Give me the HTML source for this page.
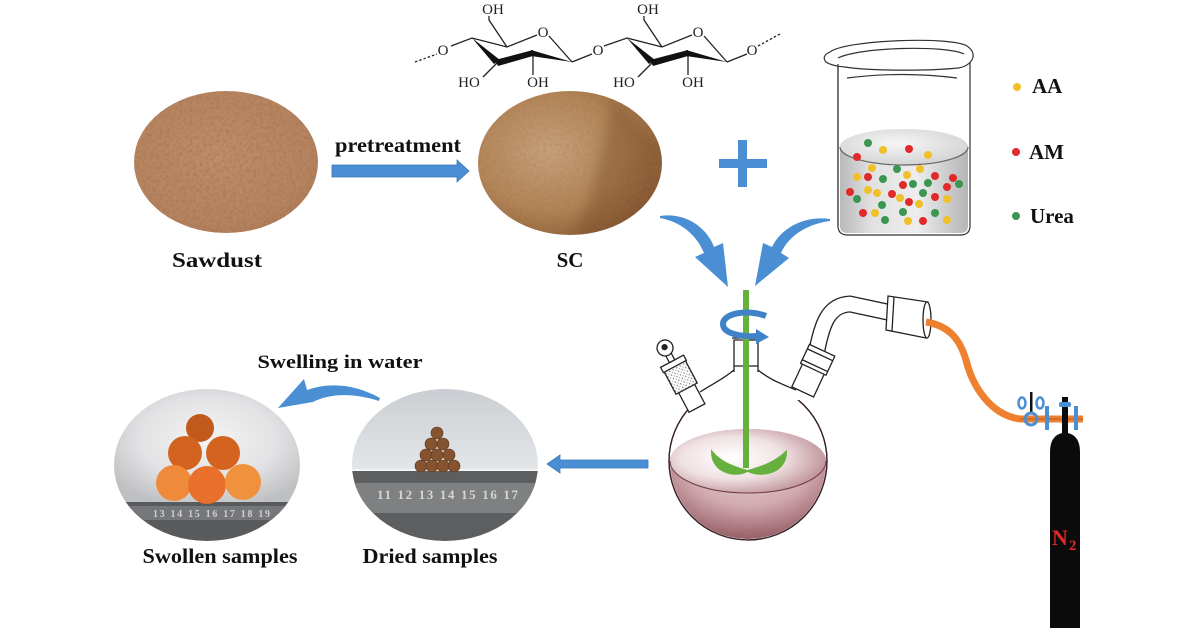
<!DOCTYPE html>
<html><head><meta charset="utf-8">
<style>
html,body{margin:0;padding:0;background:#fff;}
svg{display:block;}
text{font-family:"Liberation Serif","DejaVu Serif",serif;}
</style></head>
<body>
<svg width="1200" height="628" viewBox="0 0 1200 628" xmlns="http://www.w3.org/2000/svg">
<defs>
 <radialGradient id="gSaw" cx="0.45" cy="0.45" r="0.65">
  <stop offset="0" stop-color="#c08d68"/>
  <stop offset="0.7" stop-color="#b7835e"/>
  <stop offset="1" stop-color="#a97553"/>
 </radialGradient>
 <radialGradient id="gSC" cx="0.38" cy="0.42" r="0.7">
  <stop offset="0" stop-color="#c7a07a"/>
  <stop offset="0.55" stop-color="#b28456"/>
  <stop offset="1" stop-color="#86562f"/>
 </radialGradient>
 <filter id="tex" x="0" y="0" width="100%" height="100%">
  <feTurbulence type="fractalNoise" baseFrequency="0.3" numOctaves="2" seed="4" result="n"/>
  <feColorMatrix in="n" type="matrix" values="0 0 0 0 0.32  0 0 0 0 0.18  0 0 0 0 0.1  1.9 0 0 0 -0.8" result="d"/>
  <feComposite in="d" in2="SourceGraphic" operator="in"/>
 </filter>
 <filter id="blur" x="-20%" y="-20%" width="140%" height="140%">
  <feGaussianBlur stdDeviation="6"/>
 </filter>
 <clipPath id="cSaw"><ellipse cx="226" cy="162" rx="92" ry="71"/></clipPath>
 <clipPath id="cSC"><ellipse cx="570" cy="163" rx="92" ry="72"/></clipPath>
 <clipPath id="cSw"><ellipse cx="207" cy="465" rx="93" ry="76"/></clipPath>
 <clipPath id="cDr"><ellipse cx="445" cy="465" rx="93" ry="76"/></clipPath>
 <radialGradient id="gSwBg" cx="0.5" cy="0.45" r="0.6">
  <stop offset="0" stop-color="#f4f4f5"/>
  <stop offset="0.6" stop-color="#e2e2e4"/>
  <stop offset="1" stop-color="#bfc0c2"/>
 </radialGradient>
 <linearGradient id="gDrBg" x1="0" y1="0" x2="0" y2="1">
  <stop offset="0" stop-color="#c9cdd1"/>
  <stop offset="1" stop-color="#e4e7ea"/>
 </linearGradient>
 <linearGradient id="gBeaker" x1="0" y1="0" x2="1" y2="0">
  <stop offset="0" stop-color="#b9b9b9"/>
  <stop offset="0.25" stop-color="#e2e2e2"/>
  <stop offset="0.6" stop-color="#ededed"/>
  <stop offset="1" stop-color="#b5b5b5"/>
 </linearGradient>
 <radialGradient id="gBSurf" cx="0.45" cy="0.4" r="0.6">
  <stop offset="0" stop-color="#f6f6f6"/>
  <stop offset="1" stop-color="#d4d4d4"/>
 </radialGradient>
 <radialGradient id="gLiq" cx="0.5" cy="0.3" r="0.75">
  <stop offset="0" stop-color="#ecd8da"/>
  <stop offset="0.55" stop-color="#cfa8ad"/>
  <stop offset="1" stop-color="#8e525c"/>
 </radialGradient>
 <radialGradient id="gSurf" cx="0.4" cy="0.45" r="0.65">
  <stop offset="0" stop-color="#ffffff"/>
  <stop offset="0.5" stop-color="#f0e2e4"/>
  <stop offset="1" stop-color="#b98a91"/>
 </radialGradient>
 <pattern id="dots" width="4" height="4" patternUnits="userSpaceOnUse">
  <rect width="4" height="4" fill="#fff"/>
  <circle cx="1" cy="1" r="0.7" fill="#777"/>
  <circle cx="3" cy="3" r="0.6" fill="#999"/>
 </pattern>
</defs>

<rect width="1200" height="628" fill="#fff"/>

<!-- Cellulose structure -->
<g stroke="#222" stroke-width="1.3" fill="none">
 <path d="M415 62 L437 54" stroke-dasharray="2.5 2"/>
 <path d="M451 46 L472 38 L507 47 L537 35"/>
 <path d="M549 36 L572 62"/>
 <path d="M507 47 L489 20 L489 16"/>
 <path d="M497 63 L483 77"/>
 <path d="M533 52 L533 75"/>
 <path d="M572 62 L592 54"/>
 <path d="M604 46 L627 38 L662 47 L692 35"/>
 <path d="M704 36 L727 62"/>
 <path d="M662 47 L644 20 L644 16"/>
 <path d="M652 63 L638 77"/>
 <path d="M688 52 L688 75"/>
 <path d="M727 62 L747 54"/>
 <path d="M758 46 L780 34" stroke-dasharray="2.5 2"/>
</g>
<g fill="#111">
 <polygon points="472,38 494,64 500,60"/>
 <polygon points="495,60 533,50 533,56 498,66"/>
 <polygon points="531,50 572,62 531,56"/>
 <polygon points="627,38 649,64 655,60"/>
 <polygon points="650,60 688,50 688,56 653,66"/>
 <polygon points="686,50 727,62 686,56"/>
</g>
<g font-size="15" fill="#222" text-anchor="middle">
 <text x="443" y="55">O</text>
 <text x="543" y="37">O</text>
 <text x="598" y="55">O</text>
 <text x="698" y="37">O</text>
 <text x="752" y="55">O</text>
 <text x="493" y="14">OH</text>
 <text x="469" y="87">HO</text>
 <text x="538" y="87">OH</text>
 <text x="648" y="14">OH</text>
 <text x="624" y="87">HO</text>
 <text x="693" y="87">OH</text>
</g>

<!-- Sawdust -->
<g clip-path="url(#cSaw)">
 <rect x="130" y="88" width="200" height="150" fill="url(#gSaw)"/>
 <rect x="130" y="88" width="200" height="150" fill="#000" filter="url(#tex)" opacity="0.8"/>
</g>
<!-- SC -->
<g clip-path="url(#cSC)">
 <rect x="474" y="88" width="195" height="150" fill="url(#gSC)"/>
 <path d="M612 100 C602 150, 597 190, 572 240 L650 240 L665 150 Z" fill="#6e4220" opacity="0.35" filter="url(#blur)"/>
 <rect x="474" y="88" width="195" height="150" fill="#000" filter="url(#tex)" opacity="0.35"/>
</g>

<!-- pretreatment arrow -->
<path d="M332 165 L457 165 L457 160 L469 171 L457 182 L457 177 L332 177 Z" fill="#4a8ed4" stroke="#3b78bd" stroke-width="0.8"/>
<text x="398" y="152" font-size="21" font-weight="bold" fill="#111" text-anchor="middle" textLength="126" lengthAdjust="spacingAndGlyphs">pretreatment</text>
<text x="217" y="267" font-size="21" font-weight="bold" fill="#111" text-anchor="middle" textLength="90" lengthAdjust="spacingAndGlyphs">Sawdust</text>
<text x="570" y="267" font-size="21" font-weight="bold" fill="#111" text-anchor="middle">SC</text>

<!-- plus -->
<rect x="738" y="140" width="9" height="47" fill="#4a8ed4"/>
<rect x="719" y="159" width="48" height="9" fill="#4a8ed4"/>

<!-- Beaker -->
<g>
 <path d="M840 147 L840 226 Q840 233 848 233 L960 233 Q968 233 968 226 L968 147 A64 18 0 0 0 840 147 Z" fill="url(#gBeaker)"/>
 <ellipse cx="904" cy="147" rx="64" ry="18" fill="url(#gBSurf)"/>
 <path d="M840 147 A64 18 0 0 0 968 147" fill="none" stroke="#666" stroke-width="1.2"/>
 <g stroke="#333" stroke-width="1.2" fill="none">
  <path d="M838 64 L838 226 Q838 235 848 235 L960 235 Q970 235 970 226 L970 62"/>
  <path d="M826 62 Q821 56 830 52 C845 40, 950 36, 967 46 C979 54, 972 66, 958 68 C930 71, 870 71, 845 67 Q832 66 826 62 Z" fill="#fff"/>
  <path d="M838 58 C860 47, 945 45, 964 54"/>
  <path d="M847 78 Q902 71 957 78"/>
  <path d="M838 64 L838 226"/>
 </g>
 <g>
  <g fill="#3a9650">
   <circle cx="868" cy="143" r="4"/><circle cx="883" cy="179" r="4"/><circle cx="897" cy="169" r="4"/>
   <circle cx="913" cy="184" r="4"/><circle cx="928" cy="183" r="4"/><circle cx="923" cy="193" r="4"/>
   <circle cx="882" cy="205" r="4"/><circle cx="857" cy="199" r="4"/><circle cx="903" cy="212" r="4"/>
   <circle cx="885" cy="220" r="4"/><circle cx="935" cy="213" r="4"/><circle cx="959" cy="184" r="4"/>
  </g>
  <g fill="#efc02a">
   <circle cx="883" cy="150" r="4"/><circle cx="928" cy="155" r="4"/><circle cx="872" cy="168" r="4"/>
   <circle cx="920" cy="169" r="4"/><circle cx="857" cy="177" r="4"/><circle cx="907" cy="175" r="4"/>
   <circle cx="868" cy="190" r="4"/><circle cx="877" cy="193" r="4"/><circle cx="900" cy="198" r="4"/>
   <circle cx="919" cy="204" r="4"/><circle cx="947" cy="199" r="4"/><circle cx="875" cy="213" r="4"/>
   <circle cx="908" cy="221" r="4"/><circle cx="947" cy="220" r="4"/>
  </g>
  <g fill="#e02a2a">
   <circle cx="857" cy="157" r="4"/><circle cx="909" cy="149" r="4"/><circle cx="868" cy="177" r="4"/>
   <circle cx="935" cy="176" r="4"/><circle cx="903" cy="185" r="4"/><circle cx="953" cy="178" r="4"/>
   <circle cx="947" cy="187" r="4"/><circle cx="850" cy="192" r="4"/><circle cx="892" cy="194" r="4"/>
   <circle cx="909" cy="202" r="4"/><circle cx="935" cy="197" r="4"/><circle cx="863" cy="213" r="4"/>
   <circle cx="923" cy="221" r="4"/>
  </g>
 </g>
</g>

<!-- legend -->
<circle cx="1017" cy="87" r="4" fill="#efc02a"/>
<circle cx="1016" cy="152" r="4" fill="#e02a2a"/>
<circle cx="1016" cy="216" r="4" fill="#3a9650"/>
<g font-size="21" font-weight="bold" fill="#111">
 <text x="1032" y="93">AA</text>
 <text x="1029" y="159">AM</text>
 <text x="1030" y="223">Urea</text>
</g>

<!-- curved arrows into flask -->
<path d="M660 216 C688 212, 708 230, 714 247 L723 243 L728 287 L695 257 L704 253 C697 236, 682 222, 660 218 Z" fill="#4a8ed4"/>
<path d="M830 219 C802 215, 780 230, 772 247 L763 243 L755 286 L789 258 L781 253 C788 237, 806 224, 830 221 Z" fill="#4a8ed4"/>

<!-- Flask -->
<g stroke="#222" stroke-width="1.3">
 <circle cx="748" cy="461" r="79" fill="#fff"/>
</g>
<path d="M670 461 A78 78 0 0 0 826 461 A78 32 0 0 0 670 461 Z" fill="url(#gLiq)"/>
<ellipse cx="748" cy="461" rx="78" ry="32" fill="url(#gSurf)"/>
<path d="M670 461 A78 32 0 0 0 826 461" fill="none" stroke="#6e3a42" stroke-width="1"/>
<circle cx="748" cy="461" r="79" fill="none" stroke="#3a2226" stroke-width="1.3"/>

<!-- shoulders -->
<g stroke="#222" stroke-width="1.3" fill="#fff">
 <path d="M700 392 C712 384, 722 380, 734 370 L758 370 C770 380, 782 384, 796 390 L800 400 L696 404 Z" stroke="none"/>
 <path d="M700 392 C712 384, 722 380, 734 370" fill="none"/>
 <path d="M758 370 C770 380, 782 384, 796 390" fill="none"/>
 <!-- centre neck -->
 <path d="M734 372 L734 340 L758 340 L758 372" />
 <path d="M732 338 L760 338" fill="none"/>
 <path d="M734 366 L758 366" fill="none"/>
</g>
<!-- left neck with stopper -->
<g transform="translate(681,378) rotate(-28)" stroke="#222" stroke-width="1.3">
 <rect x="-9" y="10" width="18" height="24" fill="#fff"/>
 <rect x="-12" y="-14" width="24" height="26" fill="url(#dots)"/>
 <rect x="-13" y="-19" width="26" height="6" fill="#fff"/>
 <rect x="-3" y="-28" width="6" height="9" fill="#fff"/>
 <circle cx="0" cy="-34" r="8" fill="#fff"/>
 <circle cx="0" cy="-35" r="2.5" fill="#222"/>
</g>
<!-- right neck and adapter -->
<path d="M817 350 C822 325, 828 305, 850 304 L892 313" fill="none" stroke="#222" stroke-width="17" stroke-linejoin="round"/>
<path d="M817 350 C822 325, 828 305, 850 304 L892 313" fill="none" stroke="#fff" stroke-width="14.4" stroke-linejoin="round"/>
<g transform="translate(812,372) rotate(25)" stroke="#222" stroke-width="1.3">
 <rect x="-12" y="-4" width="24" height="26" fill="#fff"/>
 <rect x="-14" y="-24" width="28" height="21" fill="#fff"/>
 <path d="M-14 -19 L14 -19 M-14 -7 L14 -7" fill="none"/>
</g>
<g stroke="#222" stroke-width="1.3">
 <polygon points="888,296 928,302 926,338 886,330" fill="#fff"/>
 <path d="M894 297 L892 331" fill="none"/>
 <ellipse cx="927" cy="320" rx="4" ry="18" fill="#fff"/>
</g>

<!-- orange tube -->
<path d="M926 322 C950 326, 960 340, 966 360 C972 385, 990 415, 1020 419 L1083 419" fill="none" stroke="#ef8030" stroke-width="7" stroke-linecap="butt"/>
<path d="M1020 419 L1083 419" stroke="#5a2c10" stroke-width="1" opacity="0.4"/>

<!-- valve -->
<g>
 <ellipse cx="1022" cy="403" rx="3.5" ry="5.5" fill="none" stroke="#4a8ed4" stroke-width="2.5"/>
 <ellipse cx="1040" cy="403" rx="3.5" ry="5.5" fill="none" stroke="#4a8ed4" stroke-width="2.5"/>
 <rect x="1030" y="392" width="2.5" height="20" fill="#111"/>
 <circle cx="1031" cy="419" r="6" fill="none" stroke="#4a8ed4" stroke-width="3"/>
 <rect x="1045" y="406" width="4" height="24" fill="#4a8ed4"/>
 <rect x="1074" y="406" width="4" height="24" fill="#4a8ed4"/>
</g>
<!-- cylinder -->
<path d="M1050 628 L1050 452 Q1050 436 1062 433 L1062 397 L1068 397 L1068 433 Q1080 436 1080 452 L1080 628 Z" fill="#0b0b0b"/>
<rect x="1059" y="402" width="12" height="5" rx="2" fill="#4a8ed4"/>
<text x="1052" y="545" font-size="22" font-weight="bold" fill="#e02828">N</text>
<text x="1069" y="550" font-size="15" font-weight="bold" fill="#e02828">2</text>

<!-- stirring rod -->
<rect x="743" y="290" width="6" height="178" fill="#66b03e"/>
<path d="M712 452 C712 472, 735 478, 747 471 C733 467, 720 462, 712 452 Z" fill="#66b03e" stroke="#66b03e" stroke-width="2"/>
<path d="M786 452 C786 472, 763 478, 748 471 C762 467, 776 462, 786 452 Z" fill="#66b03e" stroke="#66b03e" stroke-width="2"/>
<!-- rotation arrow -->
<path d="M766 316 C748 309, 723 313, 723 324 C723 334, 742 337, 758 336" fill="none" stroke="#3f82c8" stroke-width="6"/>
<polygon points="756,329 769,337 756,344" fill="#3f82c8"/>

<!-- arrow to dried -->
<path d="M648 460 L560 460 L560 455 L547 464 L560 473 L560 468 L648 468 Z" fill="#4a8ed4" stroke="#3b78bd" stroke-width="0.8"/>

<!-- Dried samples photo -->
<g clip-path="url(#cDr)">
 <rect x="350" y="386" width="192" height="86" fill="url(#gDrBg)"/>
 <rect x="350" y="469" width="192" height="2" fill="#f4f4f4"/>
 <rect x="350" y="471" width="192" height="72" fill="#5c5e60"/>
 <rect x="350" y="483" width="192" height="30" fill="#7e8081"/>
 <g font-size="13" fill="#d6d6d6" font-weight="bold">
  <text x="377" y="499" textLength="141" lengthAdjust="spacing">11 12 13 14 15 16 17</text>
 </g>
 <g fill="#85532f" stroke="#5e3518" stroke-width="0.6">
  <circle cx="437" cy="433" r="6"/>
  <circle cx="431" cy="444" r="6"/><circle cx="443" cy="444" r="6"/>
  <circle cx="426" cy="455" r="6"/><circle cx="437" cy="455" r="6"/><circle cx="449" cy="455" r="6"/>
  <circle cx="421" cy="466" r="6"/><circle cx="432" cy="466" r="6"/><circle cx="443" cy="466" r="6"/><circle cx="454" cy="466" r="6"/>
 </g>
</g>

<!-- Swollen samples photo -->
<g clip-path="url(#cSw)">
 <rect x="112" y="386" width="192" height="118" fill="url(#gSwBg)"/>
 <rect x="112" y="502" width="192" height="42" fill="#585a5c"/>
 <rect x="112" y="506" width="192" height="14" fill="#75777a"/>
 <text x="153" y="517" font-size="10" fill="#cfcfcf" font-weight="bold" textLength="117" lengthAdjust="spacing">13 14 15 16 17 18 19</text>
 <circle cx="200" cy="428" r="14" fill="#c2591d"/>
 <circle cx="185" cy="453" r="17" fill="#d2621f"/>
 <circle cx="223" cy="453" r="17" fill="#d3631f"/>
 <circle cx="174" cy="483" r="18" fill="#ee8a3a"/>
 <circle cx="207" cy="485" r="19" fill="#e8702a"/>
 <circle cx="243" cy="482" r="18" fill="#f0913e"/>
</g>

<!-- swelling arrow -->
<path d="M379 401 C355 393, 330 393, 313 402 L278 408 L304 379 L307 390 C330 382, 355 384, 380 398 Z" fill="#4a8ed4"/>

<g font-weight="bold" fill="#111" text-anchor="middle">
 <text x="340" y="368" font-size="19" textLength="165" lengthAdjust="spacingAndGlyphs">Swelling in water</text>
 <text x="220" y="563" font-size="21" textLength="155" lengthAdjust="spacingAndGlyphs">Swollen samples</text>
 <text x="430" y="563" font-size="21" textLength="135" lengthAdjust="spacingAndGlyphs">Dried samples</text>
</g>
</svg>
</body>
</html>
